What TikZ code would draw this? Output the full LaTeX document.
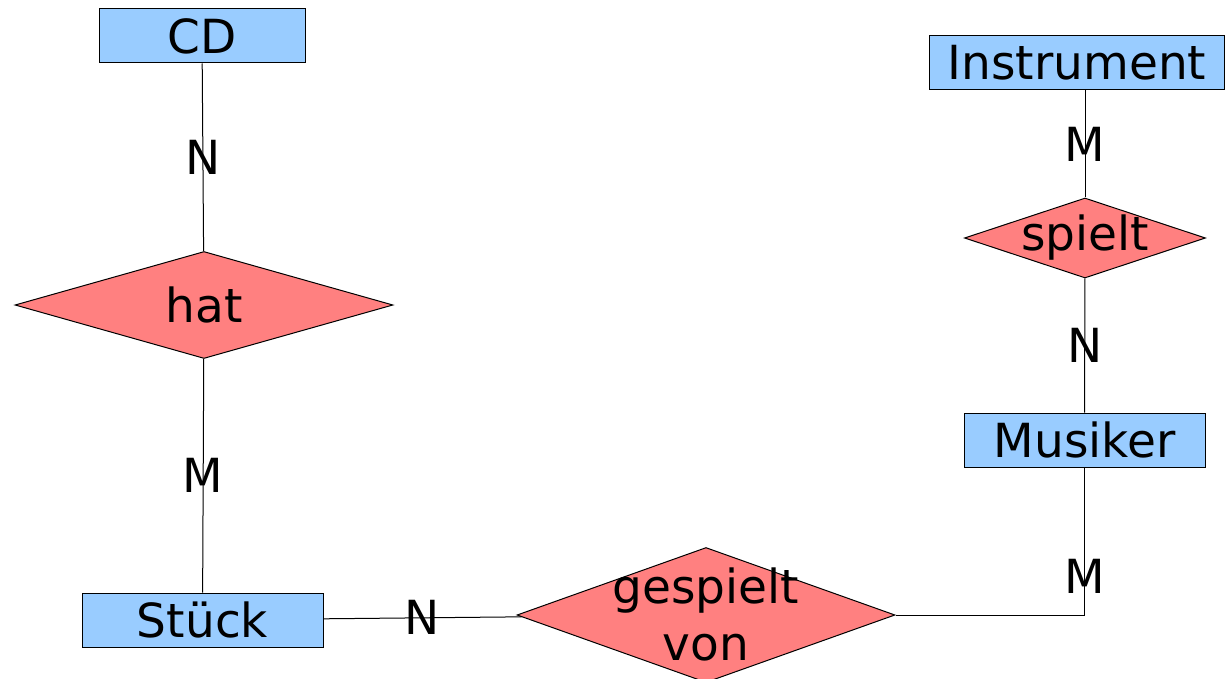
\documentclass[tikz,border=0pt]{standalone}
\usepackage{fontspec}
\setmainfont{DejaVu Sans}
\usetikzlibrary{shapes.geometric,positioning}

\definecolor{entblue}{HTML}{99CCFF}
\definecolor{relred}{HTML}{FF8080}
\newcommand{\reltext}[1]{\makebox[0pt]{#1}}

\begin{document}
\begin{tikzpicture}[x=1pt, y=-1pt, line width=1pt, font=\fontsize{47}{57}\selectfont,
    entity/.style={rectangle, draw, fill=entblue, inner sep=0pt, minimum height=54pt},
    relation/.style={diamond, draw, fill=relred, inner sep=0pt},
    card/.style={inner sep=0pt}]

    \useasboundingbox (0,0) rectangle (1225,679);

    \node[entity, minimum width=206pt]                           (cd)         at (202,36)     {CD};
    \node[relation, minimum width=378pt, minimum height=107pt]   (hat)        at (204,305)    {\reltext{hat}};
    \node[entity, minimum width=241pt]                           (stueck)     at (202.5,620)  {Stück};
    \node[relation, minimum width=378pt, minimum height=135pt]   (gv)         at (706,615)
        {\reltext{\smash{\raisebox{12pt}{\begin{tabular}[t]{@{}c@{}}gespielt\\von\end{tabular}}}}};
    \node[entity, minimum width=241pt]                           (musiker)    at (1084.5,440) {Musiker};
    \node[relation, minimum width=241pt, minimum height=80pt]    (spielt)     at (1085,238)   {\reltext{spielt}};
    \node[entity, minimum width=295pt]                           (instrument) at (1077,63)    {Instrument};
    \coordinate (instrfoot) at (spielt.north |- instrument.south);

    \path   (cd)        edge    node[card] {N}    (hat)
            (hat)       edge    node[card] {M}    (stueck)
            (stueck)    edge    node[card] {N}    (gv)
            (musiker)   edge    node[card] {N}    (spielt)
            (spielt)    edge    node[card] {M}    (instrfoot);
    \draw   (gv.east) -| node[card, pos=0.63] {M} (musiker.south);

\end{tikzpicture}
\end{document}
